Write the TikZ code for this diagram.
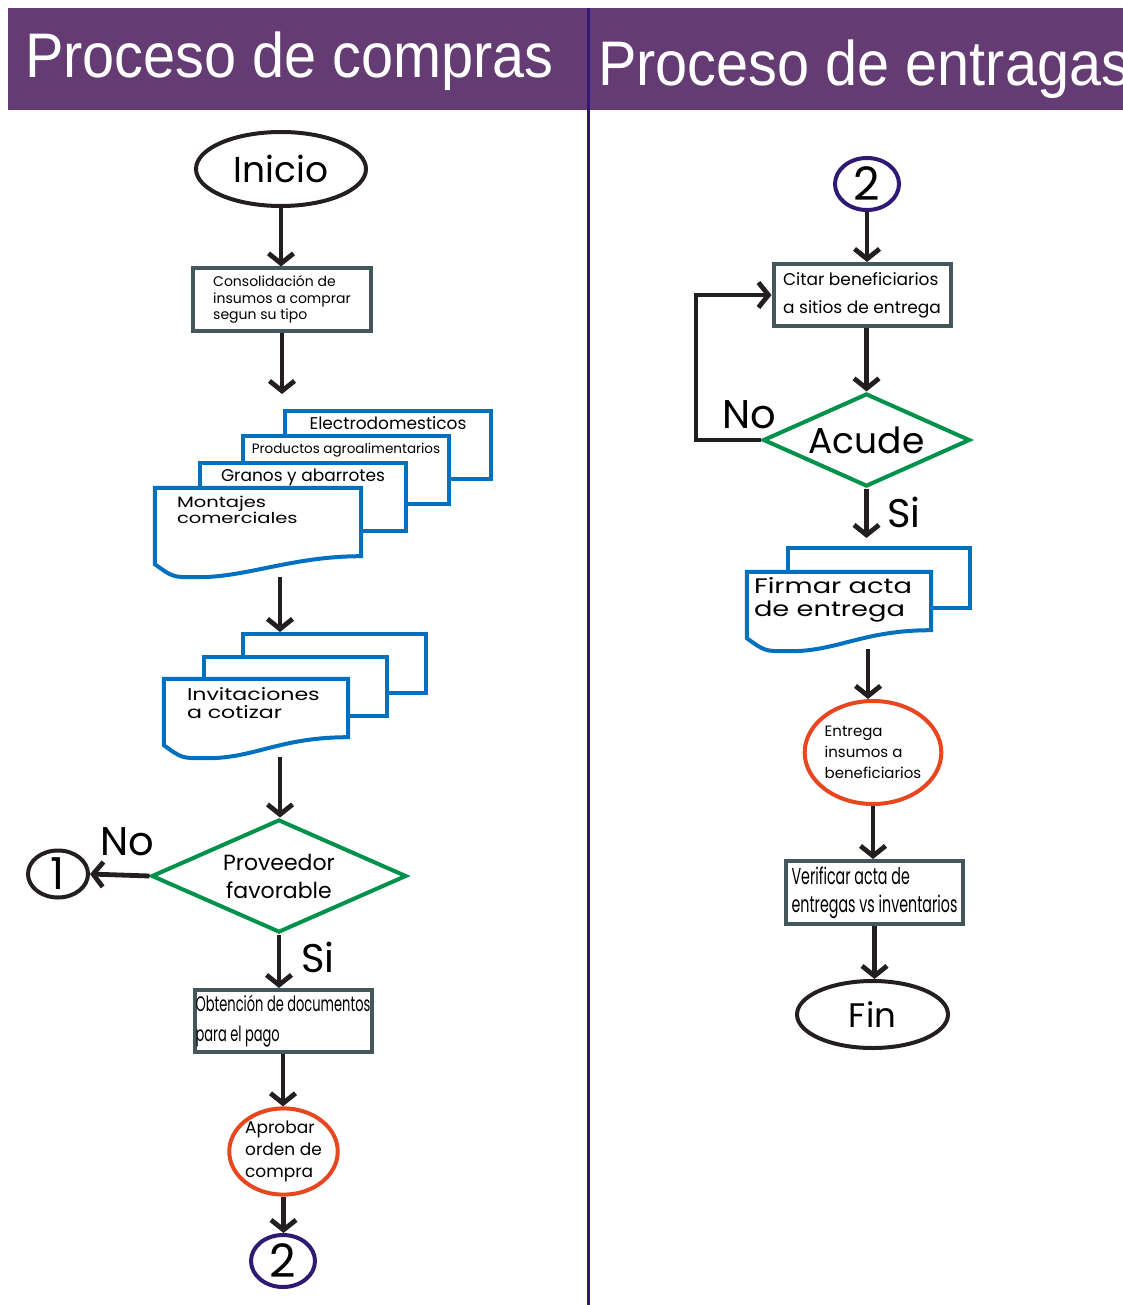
\documentclass[tikz,border=0pt]{standalone}
\usepackage{fontspec}
\setmainfont{Poppins}
\newfontfamily\titulo[FakeStretch=0.915]{Liberation Sans}
\newfontfamily\angosta[FakeStretch=0.62]{Poppins}
\newfontfamily\ancha[FakeStretch=1.3]{Poppins}
\usetikzlibrary{shapes.geometric}
\usetikzlibrary{arrows.meta}
\definecolor{moradot}{HTML}{643B72}
\definecolor{moradol}{HTML}{2E1A72}
\definecolor{cajagris}{HTML}{44585B}
\definecolor{azuldoc}{HTML}{0071C1}
\definecolor{verdedec}{HTML}{00924A}
\definecolor{naranja}{HTML}{E8461E}
\definecolor{negrof}{HTML}{231F20}

% hoja del frente con borde ondulado abajo
\newcommand{\hojaonda}[1]{%
  \draw[draw=azuldoc, line width=4pt, fill=white] (#1.north west) -- (#1.north east) -- (#1.south east)
    .. controls ([shift={(-70,0)}]#1.south east) and ([shift={(90,22)}]#1.south west) .. ([shift={(40,21)}]#1.south west)
    .. controls ([shift={(18,21)}]#1.south west) .. ([shift={(0,8)}]#1.south west) -- cycle;}

\begin{document}
\begin{tikzpicture}[x=1pt, y=-1pt,
  flecha/.style={draw=negrof, line width=4.8pt, -{Straight Barb[length=10pt,width=25pt]}},
  caja/.style={draw=cajagris, line width=4pt, fill=white, inner sep=0pt, align=left},
  hoja/.style={draw=azuldoc, line width=4pt, fill=white, inner sep=0pt},
  hojafrente/.style={inner sep=0pt},
  decision/.style={diamond, aspect=2.2, draw=verdedec, line width=4pt, inner sep=0pt, align=center},
  terminal/.style={ellipse, draw=negrof, line width=4pt, inner sep=0pt},
  proceso/.style={ellipse, draw=naranja, line width=4pt, inner sep=0pt, align=left},
  conector/.style={ellipse, draw=moradol, line width=4pt, inner sep=0pt},
  etiq/.style={font=\fontsize{40}{40}\selectfont, inner sep=0pt, anchor=base},
  titulotxt/.style={font=\titulo\fontsize{63}{63}\selectfont, text=white, inner sep=0pt}]
  \useasboundingbox (0,0) rectangle (1123,1305);
  % encabezado
  \fill[moradot] (8,8) rectangle (1123,110);
  \node[titulotxt, anchor=base west] (tcompras) at (25,78) {Proceso de compras};
  \node[titulotxt, anchor=base west] (tentregas) at (598,86) {Proceso de entragas};
  \draw[moradol, line width=3pt] (588,8) -- (588,1305);

  % proceso de compras
  \node[terminal, minimum width=170, minimum height=74, font=\fontsize{36}{36}\selectfont] (inicio) at (281,169) {Inicio};
  \node[caja, minimum width=178, minimum height=62, font=\fontsize{14}{16.5}\selectfont] (cons) at (282,299.5) {Consolidación de\\insumos a comprar\\segun su tipo};
  \node[hoja, minimum width=206, minimum height=68] (elec) at (388,445) {};
  \node[hoja, minimum width=206, minimum height=68] (prod) at (346,470) {};
  \node[hoja, minimum width=206, minimum height=68] (gran) at (303,497) {};
  \node[hojafrente, minimum width=206, minimum height=68] (mont) at (258,522) {};
  \hojaonda{mont}
  \node[anchor=base, inner sep=0pt, font=\fontsize{17}{17}\selectfont] (telec) at ([shift={(0,20)}]elec.north) {Electrodomesticos};
  \node[anchor=base, inner sep=0pt, font=\fontsize{13.5}{13.5}\selectfont] (tprod) at ([shift={(0,19)}]prod.north) {Productos agroalimentarios};
  \node[anchor=base, inner sep=0pt, font=\fontsize{17}{17}\selectfont] (tgran) at ([shift={(0,20)}]gran.north) {Granos y abarrotes};
  \node[anchor=north west, inner sep=0pt, align=left, font=\ancha\fontsize{15}{16}\selectfont] (tmont) at ([shift={(22,8)}]mont.north west) {Montajes\\comerciales};
  \coordinate (montpie) at (280,577);

  \node[hoja, minimum width=183, minimum height=59] (invc) at (334.5,663.5) {};
  \node[hoja, minimum width=183, minimum height=59] (invb) at (295.5,686.5) {};
  \node[hojafrente, minimum width=184, minimum height=58] (inva) at (256,708) {};
  \hojaonda{inva}
  \node[anchor=north west, inner sep=0pt, align=left, font=\ancha\fontsize{17}{18}\selectfont] (tinva) at ([shift={(23,9)}]inva.north west) {Invitaciones\\a cotizar};
  \coordinate (invpie) at (280,757);

  \node[decision, minimum width=255, minimum height=113, font=\fontsize{22}{28}\selectfont] (prov) at (279,876) {Proveedor\\favorable};
  \node[terminal, minimum width=60, minimum height=47, font=\fontsize{44}{44}\selectfont] (uno) at (58,874) {1};
  \node[caja, minimum width=177, minimum height=62, font=\angosta\fontsize{21}{30}\selectfont] (obt) at (283,1021) {Obtención de documentos\\para el pago};
  \node[proceso, minimum width=103, minimum height=85, font=\fontsize{17}{22}\selectfont] (apro) at (283.5,1151.5) {Aprobar\\orden de\\compra};
  \node[conector, minimum width=64, minimum height=52, font=\fontsize{46}{46}\selectfont] (dos) at (283,1261) {2};

  \node[etiq] (nocompra) at (127,855) {No};
  \node[etiq] (sicompra) at (318,972) {Si};

  \draw[flecha] (inicio.south) -- (inicio.south |- cons.north);
  \draw[flecha, shorten >=40pt] (cons.south) -- (cons.south |- prod.north);
  \draw[flecha] (montpie) -- (montpie |- invc.north);
  \draw[flecha] (invpie) -- (invpie |- prov.north);
  \draw[flecha] (prov.west) -- (uno.east);
  \draw[flecha] (prov.south) -- (prov.south |- obt.north);
  \draw[flecha] (obt.south) -- (obt.south |- apro.north);
  \draw[flecha] (apro.south) -- (apro.south |- dos.north);

  % proceso de entregas
  \node[conector, minimum width=64, minimum height=52, font=\fontsize{46}{46}\selectfont] (dosb) at (867,184) {2};
  \node[caja, minimum width=177, minimum height=62, font=\fontsize{17}{28}\selectfont] (citar) at (862,295) {Citar beneficiarios\\a sitios de entrega};
  \node[decision, minimum width=207, minimum height=93, font=\fontsize{36}{36}\selectfont] (acude) at (866.5,440) {Acude};
  \coordinate (vuelta) at (696,440);
  \node[hoja, minimum width=182, minimum height=60] (firb) at (879,578) {};
  \node[hojafrente, minimum width=184, minimum height=58] (fira) at (839,601) {};
  \hojaonda{fira}
  \node[anchor=north west, inner sep=0pt, align=left, font=\ancha\fontsize{21}{23}\selectfont] (tfira) at ([shift={(7,6)}]fira.north west) {Firmar acta\\de entrega};
  \coordinate (firpie) at (868,649);
  \node[proceso, minimum width=124, minimum height=103, font=\fontsize{15}{21}\selectfont] (entr) at (873,752.5) {Entrega\\insumos a\\beneficiarios};
  \node[caja, minimum width=177, minimum height=63, font=\angosta\fontsize{23}{28}\selectfont] (veri) at (874.5,892.5) {Verificar acta de\\entregas vs inventarios};
  \node[terminal, minimum width=151, minimum height=67, font=\fontsize{34}{34}\selectfont] (fin) at (872.5,1014.5) {Fin};

  \node[etiq] (noentrega) at (749,428) {No};
  \node[etiq] (sientrega) at (904,527) {Si};

  \draw[flecha] (dosb.south) -- (dosb.south |- citar.north);
  \draw[flecha] (citar.south -| acude.north) -- (acude.north);
  \draw[flecha] (acude.west) -- (vuelta) |- (citar.west);
  \draw[flecha, shorten >=8pt] (acude.south) -- (acude.south |- firb.north);
  \draw[flecha] (firpie) -- (firpie |- entr.north);
  \draw[flecha] (entr.south) -- (entr.south |- veri.north);
  \draw[flecha] (veri.south) -- (veri.south |- fin.north);
\end{tikzpicture}
\end{document}
